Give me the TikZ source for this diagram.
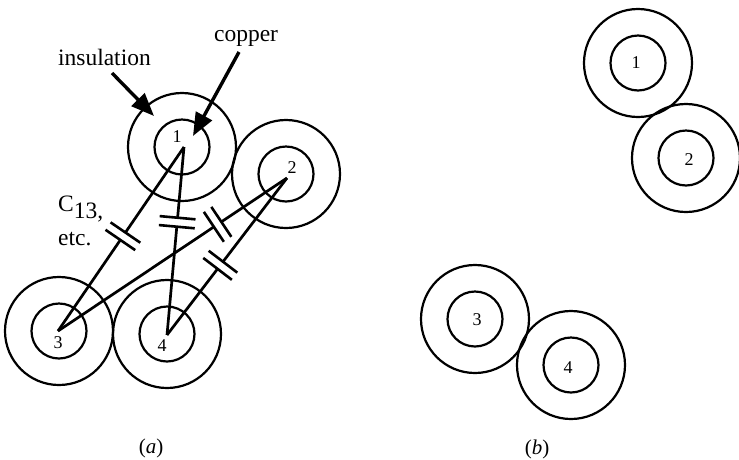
\documentclass[tikz,border=0pt]{standalone}
\usepackage{fontspec}
\setmainfont{Liberation Serif}
\usetikzlibrary{arrows.meta, calc}
\tikzset{
  every picture/.style={line width=2.2pt, x=1pt, y=-1pt},
  outer/.style={draw, circle, minimum size=108pt, inner sep=0pt},
  inner/.style={draw, circle, minimum size=55pt, inner sep=0pt},
  num/.style={font=\fontsize{18}{18}\selectfont, inner sep=0pt},
  label/.style={font=\fontsize{23.5}{25}\selectfont, inner sep=0pt, align=left},
  caption/.style={font=\fontsize{21}{23}\selectfont, inner sep=0pt},
  pointer/.style={-{Triangle[length=23pt, width=18pt]}, line width=3.4pt},
  wire/.style={line width=2.7pt},
  plate/.style={line width=2.6pt},
}
% two parallel plates across a wire
\newcommand{\capwire}[3]{
  \coordinate (m) at ($(#1)!#3!(#2)$);
  \draw[wire] (#1) -- ($(m)!4.5pt!(#1)$);
  \draw[wire] (#2) -- ($(m)!4.5pt!(#2)$);
  \draw[plate] ($(m)!4.5pt!(#1)!18pt!90:(#1)$) -- ($(m)!4.5pt!(#1)!18pt!-90:(#1)$);
  \draw[plate] ($(m)!4.5pt!(#2)!18pt!90:(#2)$) -- ($(m)!4.5pt!(#2)!18pt!-90:(#2)$);
}
\begin{document}
\begin{tikzpicture}
  \useasboundingbox (0,0) rectangle (739,459);
  % part a
  \foreach \n/\x/\y in {a1/182/147, a2/286/174, a3/59/331, a4/167/334} {
    \node[outer] (\n o) at (\x,\y) {};
    \node[inner] (\n i) at (\x,\y) {};
  }
  \coordinate (p1) at (184,147);
  \coordinate (p2) at (287,178);
  \coordinate (p3) at (58,331);
  \coordinate (p4) at (167,335);
  \capwire{p1}{p3}{0.485}
  \capwire{p1}{p4}{0.40}
  \capwire{p2}{p3}{0.303}
  \capwire{p2}{p4}{0.556}
  \node[num] (n1) at (177,137) {1};
  \node[num] (n2) at (292,168) {2};
  \node[num] (n3) at (58,343) {3};
  \node[num] (n4) at (162,346) {4};
  \node[label, anchor=base west] (insulation) at (57,65) {insulation};
  \node[label, anchor=base west] (copper) at (213,41) {copper};
  \node[label, anchor=base west] (cap) at (57,211) {C\raisebox{-7pt}{13,}};
  \node[label, anchor=base west] (etc) at (57,245) {etc.};
  \coordinate (t1) at (154,116);
  \coordinate (t2) at (193,136);
  \draw[pointer] (112,73) -- (t1);
  \draw[pointer] (239,52) -- (t2);
  \node[caption] (capa) at (151,448) {(\textit{a})};
  % part b
  \foreach \n/\x/\y/\u/\v/\t in {b1/638/63/636/63/1, b2/686/158/689/160/2, b3/475/319/477/320/3, b4/571/365/568/368/4} {
    \node[outer] (\n o) at (\x,\y) {};
    \node[inner] (\n i) at (\x,\y) {};
    \node[num] (\n n) at (\u,\v) {\t};
  }
  \node[caption] (capb) at (537,449) {(\textit{b})};
\end{tikzpicture}
\end{document}
